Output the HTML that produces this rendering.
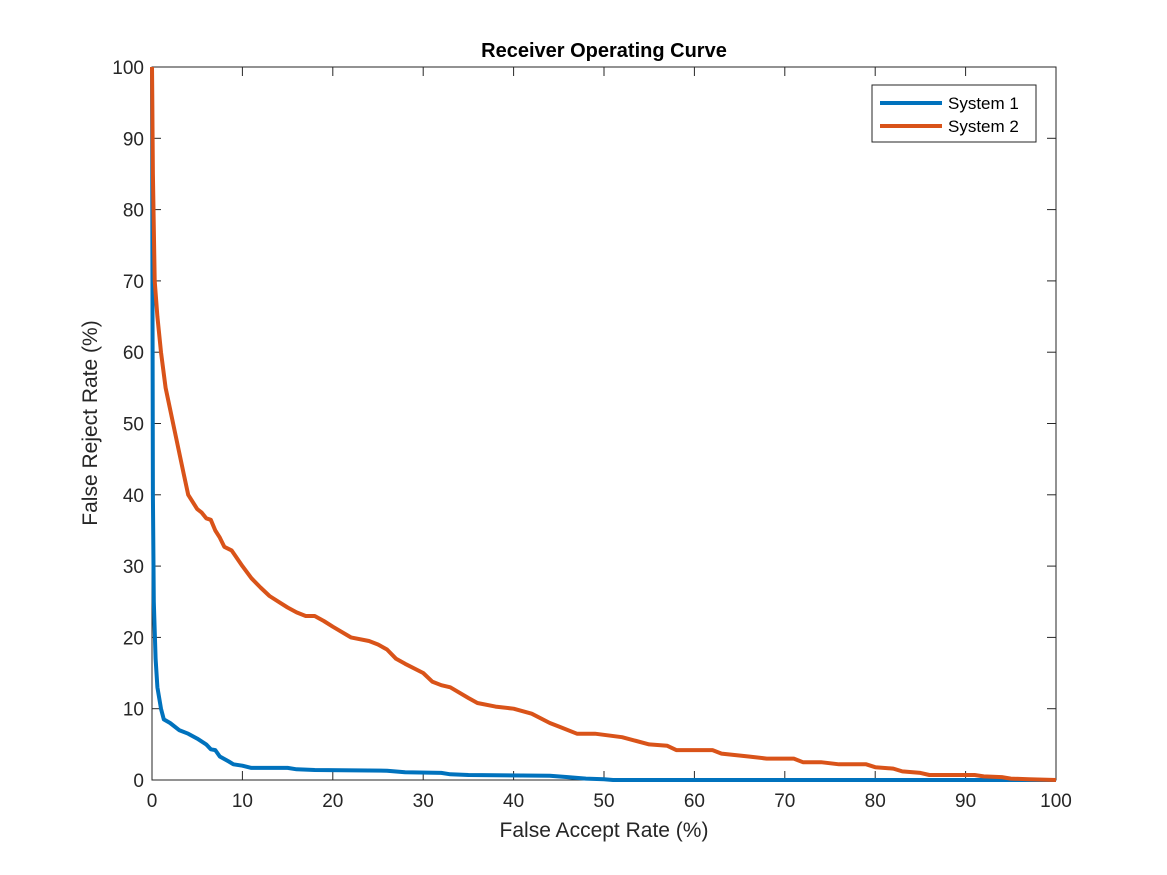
<!DOCTYPE html>
<html><head><meta charset="utf-8"><style>
body{margin:0;background:#fff;}
svg{display:block;font-family:"Liberation Sans",sans-serif;}
</style></head><body>
<svg id="chart" width="1167" height="875">
<rect width="1167" height="875" fill="#fff"/>
<g id="axes"></g>
<g id="series"></g>
<g>
<rect x="872" y="85" width="164" height="57" fill="#fff" stroke="#262626"/>
<line x1="880" x2="942" y1="103" y2="103" stroke="#0072BD" stroke-width="4"/>
<text x="948" y="109" font-size="17" fill="#000">System 1</text>
<line x1="880" x2="942" y1="126" y2="126" stroke="#D95319" stroke-width="4"/>
<text x="948" y="132" font-size="17" fill="#000">System 2</text>
</g>
</svg>
<script>
const xTicks=[0,10,20,30,40,50,60,70,80,90,100];
const yTicks=[0,10,20,30,40,50,60,70,80,90,100];
const sys1X=[0,0.1,0.2,0.4,0.6,1,1.3,2,3,4,5,6,6.5,7,7.5,8.5,9,10,11,15,16,18,26,28,32,33,35,44,46,48,50,51,100];
const sys1Y=[100,40,25,17,13,10,8.5,8,7,6.5,5.8,5,4.3,4.2,3.3,2.6,2.2,2,1.7,1.7,1.5,1.4,1.3,1.1,1,0.8,0.7,0.6,0.4,0.2,0.1,0,0];
const sys2X=[0,0.1,0.3,0.6,1,1.5,2,2.5,3,3.5,4,4.5,5,5.5,6,6.5,7,7.5,8,8.8,10,11,12,13,14,15,16,17,18,19,20,22,24,25,26,27,28,30,31,32,33,35,36,38,40,42,44,45,47,49,52,55,57,58,62,63,66,68,71,72,74,76,79,80,82,83,85,86,91,92,94,95,97,100];
const sys2Y=[100,85,70,65,60,55,52,49,46,43,40,39,38,37.5,36.7,36.5,35,34,32.7,32.2,30,28.3,27,25.8,25,24.2,23.5,23,23,22.3,21.5,20,19.5,19,18.3,17,16.3,15,13.8,13.3,13,11.5,10.8,10.3,10,9.3,8,7.5,6.5,6.5,6,5,4.8,4.2,4.2,3.7,3.3,3,3,2.5,2.5,2.2,2.2,1.8,1.6,1.2,1.0,0.7,0.7,0.5,0.4,0.2,0.1,0];
const X0=152,X1=1056,Y0=780,Y1=67;
const sx=v=>X0+(v/100)*(X1-X0), sy=v=>Y0-(v/100)*(Y0-Y1);
const NS="http://www.w3.org/2000/svg";
function mk(tag,attrs,parent,text){const e=document.createElementNS(NS,tag);for(const k in attrs)e.setAttribute(k,attrs[k]);if(text!==undefined)e.textContent=text;parent.appendChild(e);return e;}
const ax=document.getElementById('axes'), se=document.getElementById('series');
let r=mk('rect',{x:X0,y:Y1,width:X1-X0,height:Y0-Y1,fill:'none',stroke:'#262626','stroke-width':1},ax);


xTicks.forEach(t=>{const x=sx(t);
 mk('line',{x1:x,x2:x,y1:Y0,y2:Y0-9,stroke:'#262626'},ax);
 mk('line',{x1:x,x2:x,y1:Y1,y2:Y1+9,stroke:'#262626'},ax);
 const l=mk('text',{x:x,y:Y0+27,'text-anchor':'middle','font-size':19,fill:'#262626'},ax,t);
 
 });
yTicks.forEach(t=>{const y=sy(t);
 mk('line',{x1:X0,x2:X0+9,y1:y,y2:y,stroke:'#262626'},ax);
 mk('line',{x1:X1,x2:X1-9,y1:y,y2:y,stroke:'#262626'},ax);
 const l=mk('text',{x:X0-8,y:y+7,'text-anchor':'end','font-size':19,fill:'#262626'},ax,t);
 
 });
let tt=mk('text',{x:604,y:57,'text-anchor':'middle','font-size':20,'font-weight':'bold',fill:'#000'},ax,'Receiver Operating Curve');


let xl=mk('text',{x:604,y:837,'text-anchor':'middle','font-size':21,fill:'#262626'},ax,'False Accept Rate (%)');


let yl=mk('text',{x:97,y:423,'text-anchor':'middle','font-size':21,fill:'#262626',transform:'rotate(-90 97 423)'},ax,'False Reject Rate (%)');


function line(xs,ys,color,name){const d=xs.map((v,i)=>(i?'L':'M')+sx(v).toFixed(1)+','+sy(ys[i]).toFixed(1)).join('');
 const p=mk('path',{d:d,fill:'none',stroke:color,'stroke-width':4,'stroke-linejoin':'round'},se);
 
 }
line(sys1X,sys1Y,'#0072BD','system-1-line');
line(sys2X,sys2Y,'#D95319','system-2-line');
</script>
</body></html>
